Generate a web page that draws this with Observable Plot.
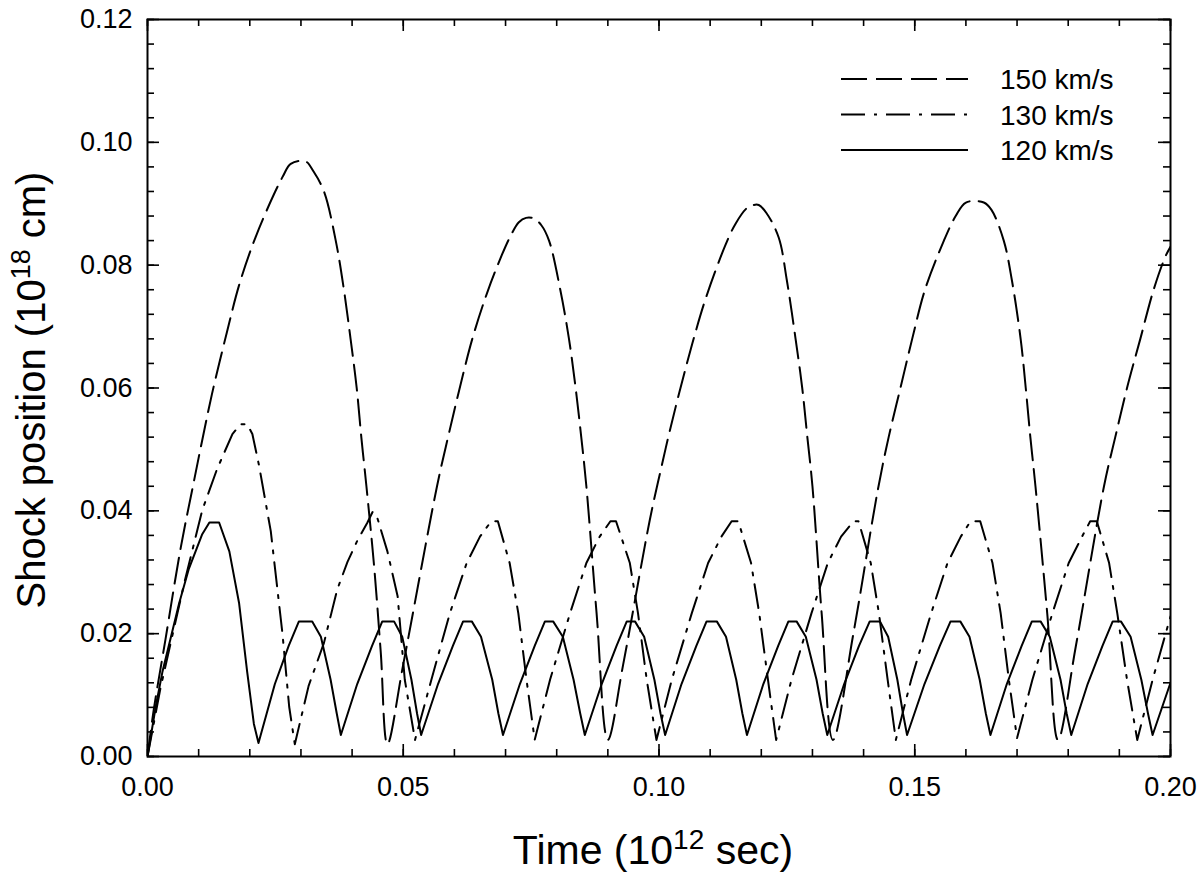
<!DOCTYPE html>
<html>
<head>
<meta charset="utf-8">
<script src="https://cdn.jsdelivr.net/npm/d3@7"></script>
<script src="https://cdn.jsdelivr.net/npm/@observablehq/plot@0.6"></script>
<style>
  html, body { margin: 0; padding: 0; background: #fff; }
  #chart svg { display: block; }
</style>
</head>
<body>
<div id="chart"></div>
<script>
// ---- Data (time in 10^12 s, position in 10^18 cm) ----
const t150 = [0, 0.0012, 0.0035, 0.0065, 0.0090, 0.0107, 0.0126, 0.0155, 0.0180, 0.0211, 0.0247, 0.0265, 0.0280, 0.0309, 0.0325, 0.0345, 0.0368, 0.0384, 0.0397, 0.0409, 0.0418, 0.0428, 0.0443, 0.0456, 0.0469,
  0.0500, 0.0566, 0.0589, 0.0609, 0.0635, 0.0664, 0.0693, 0.0710, 0.0726, 0.0740, 0.0755, 0.0770, 0.0785, 0.0807, 0.0824, 0.0837, 0.0848, 0.0858, 0.0878, 0.0900,
  0.0930, 0.0982, 0.1003, 0.1021, 0.1042, 0.1065, 0.1091, 0.1130, 0.1150, 0.1172, 0.1185, 0.1195, 0.1210, 0.1234, 0.1250, 0.1267, 0.1280, 0.1290, 0.1300, 0.1318, 0.1340,
  0.1380, 0.1428, 0.1449, 0.1472, 0.1495, 0.1520, 0.1557, 0.1580, 0.1600, 0.1635, 0.1650, 0.1674, 0.1690, 0.1707, 0.1717, 0.1726, 0.1736, 0.1759, 0.1780,
  0.1815, 0.1870, 0.1892, 0.1915, 0.1941, 0.1967, 0.1990, 0.2000];
const r150 = [0, 0.0075, 0.0190, 0.0340, 0.0445, 0.0515, 0.0590, 0.0690, 0.0770, 0.0845, 0.0915, 0.0945, 0.0965, 0.0969, 0.0952, 0.0920, 0.0840, 0.0760, 0.0680, 0.0600, 0.0520, 0.0440, 0.0310, 0.0170, 0.0020,
  0.0150, 0.0440, 0.0525, 0.0595, 0.0680, 0.0755, 0.0817, 0.0848, 0.0870, 0.0877, 0.0876, 0.0865, 0.0840, 0.0760, 0.0680, 0.0600, 0.0520, 0.0440, 0.0233, 0.0027,
  0.0150, 0.0385, 0.0465, 0.0530, 0.0600, 0.0672, 0.0745, 0.0833, 0.0868, 0.0893, 0.0898, 0.0898, 0.0885, 0.0845, 0.0775, 0.0680, 0.0600, 0.0520, 0.0440, 0.0233, 0.0027,
  0.0200, 0.0435, 0.0520, 0.0600, 0.0680, 0.0760, 0.0840, 0.0880, 0.0902, 0.0902, 0.0890, 0.0840, 0.0775, 0.0680, 0.0600, 0.0520, 0.0440, 0.0233, 0.0027,
  0.0180, 0.0440, 0.0520, 0.0600, 0.0680, 0.0760, 0.0814, 0.0830];

const t130 = [0, 0.0025, 0.0072, 0.0107, 0.0136, 0.0166, 0.0182, 0.0195, 0.0205, 0.0218, 0.0241, 0.0264, 0.0277, 0.0288,
  0.0315, 0.0345, 0.0371, 0.0391, 0.0410, 0.0430, 0.0440, 0.0447, 0.0469, 0.0489, 0.0503, 0.0523,
  0.0555, 0.0591, 0.0624, 0.0650, 0.0672, 0.0685, 0.0708, 0.0725, 0.0741, 0.0757,
  0.0787, 0.0826, 0.0858, 0.0884, 0.0905, 0.0916, 0.0943, 0.0959, 0.0976, 0.0995,
  0.1025, 0.1064, 0.1096, 0.1122, 0.1142, 0.1155, 0.1180, 0.1196, 0.1213, 0.1229,
  0.1259, 0.1298, 0.1330, 0.1356, 0.1380, 0.1390, 0.1414, 0.1430, 0.1447, 0.1463,
  0.1493, 0.1532, 0.1564, 0.1590, 0.1609, 0.1628, 0.1652, 0.1668, 0.1684, 0.1700,
  0.1730, 0.1769, 0.1801, 0.1827, 0.1843, 0.1856, 0.1880, 0.1896, 0.1915, 0.1935,
  0.1965, 0.2000];
const r130 = [0, 0.0110, 0.0283, 0.0401, 0.0468, 0.0525, 0.0541, 0.0541, 0.0525, 0.0474, 0.0367, 0.0199, 0.0081, 0.0020,
  0.0115, 0.0185, 0.0272, 0.0317, 0.0351, 0.0381, 0.0398, 0.0395, 0.0334, 0.0261, 0.0125, 0.0027,
  0.0125, 0.0233, 0.0315, 0.0358, 0.0383, 0.0383, 0.0315, 0.0233, 0.0125, 0.0027,
  0.0125, 0.0233, 0.0315, 0.0358, 0.0383, 0.0383, 0.0315, 0.0233, 0.0125, 0.0027,
  0.0125, 0.0233, 0.0315, 0.0358, 0.0383, 0.0383, 0.0315, 0.0233, 0.0125, 0.0027,
  0.0125, 0.0233, 0.0315, 0.0358, 0.0383, 0.0383, 0.0315, 0.0233, 0.0125, 0.0027,
  0.0125, 0.0233, 0.0315, 0.0358, 0.0383, 0.0383, 0.0315, 0.0233, 0.0125, 0.0030,
  0.0125, 0.0233, 0.0315, 0.0358, 0.0383, 0.0383, 0.0315, 0.0233, 0.0125, 0.0027,
  0.0125, 0.0228];

const t120 = [0, 0.0016, 0.0029, 0.0062, 0.0081, 0.0107, 0.0121, 0.0140, 0.0160, 0.0179, 0.0195, 0.0208, 0.0217,
  0.0249, 0.0276, 0.0296, 0.0322, 0.0339, 0.0358, 0.0370, 0.0378,
  0.0410, 0.0439, 0.0459, 0.0482, 0.0498, 0.0516, 0.0527, 0.0535,
  0.0568, 0.0597, 0.0617, 0.0634, 0.0652, 0.0674, 0.0686, 0.0695,
  0.0728, 0.0757, 0.0777, 0.0793, 0.0812, 0.0833, 0.0846, 0.0855,
  0.0888, 0.0917, 0.0937, 0.0953, 0.0971, 0.0991, 0.1003, 0.1012,
  0.1044, 0.1073, 0.1093, 0.1113, 0.1131, 0.1151, 0.1163, 0.1172,
  0.1204, 0.1233, 0.1253, 0.1269, 0.1287, 0.1308, 0.1320, 0.1329,
  0.1362, 0.1391, 0.1412, 0.1432, 0.1448, 0.1466, 0.1477, 0.1485,
  0.1519, 0.1549, 0.1570, 0.1589, 0.1607, 0.1627, 0.1639, 0.1648,
  0.1680, 0.1709, 0.1729, 0.1746, 0.1764, 0.1785, 0.1797, 0.1806,
  0.1838, 0.1867, 0.1887, 0.1903, 0.1922, 0.1943, 0.1956, 0.1965,
  0.2000];
const r120 = [0, 0.0081, 0.0137, 0.0250, 0.0306, 0.0362, 0.0381, 0.0381, 0.0334, 0.0250, 0.0137, 0.0053, 0.0022,
  0.0118, 0.0180, 0.0220, 0.0220, 0.0195, 0.0125, 0.0070, 0.0035,
  0.0118, 0.0180, 0.0220, 0.0220, 0.0195, 0.0125, 0.0070, 0.0035,
  0.0118, 0.0180, 0.0220, 0.0220, 0.0195, 0.0125, 0.0070, 0.0035,
  0.0118, 0.0180, 0.0220, 0.0220, 0.0195, 0.0125, 0.0070, 0.0035,
  0.0118, 0.0180, 0.0220, 0.0220, 0.0195, 0.0125, 0.0070, 0.0035,
  0.0118, 0.0180, 0.0220, 0.0220, 0.0195, 0.0125, 0.0070, 0.0035,
  0.0118, 0.0180, 0.0220, 0.0220, 0.0195, 0.0125, 0.0070, 0.0035,
  0.0118, 0.0180, 0.0220, 0.0220, 0.0195, 0.0125, 0.0070, 0.0035,
  0.0118, 0.0180, 0.0220, 0.0220, 0.0195, 0.0125, 0.0070, 0.0035,
  0.0118, 0.0180, 0.0220, 0.0220, 0.0195, 0.0125, 0.0070, 0.0035,
  0.0118, 0.0180, 0.0220, 0.0220, 0.0195, 0.0125, 0.0070, 0.0035,
  0.0120];

const seriesNames = ["150 km/s", "130 km/s", "120 km/s"];
const xTickLabels = [0, 0.05, 0.10, 0.15, 0.20];
const yTickLabels = [0, 0.02, 0.04, 0.06, 0.08, 0.10, 0.12];
const xMinorTicks = d3.range(0, 21).map(i => i / 100);
const yMinorTicks = d3.range(0, 31).map(i => i * 0.004);

// ---- layout ----
const W = 1200, H = 887;
const mL = 147, mR = 30, mT = 19, mB = 131;
const fw = W - mL - mR, fh = H - mT - mB;
const font = "'Liberation Sans', Arial, Helvetica, sans-serif";
const dashA = "26,9";
const dashB = "24,9,3,9";

const toRows = (ts, rs) => ts.map((t, i) => ({t, r: rs[i]}));
const rows150 = toRows(t150, r150);
const rows130 = toRows(t130, r130);
const rows120 = toRows(t120, r120);

const lineOpts = {x: "t", y: "r", stroke: "black", strokeWidth: 2, clip: true};

const chart = Plot.plot({
  width: W, height: H,
  marginLeft: mL, marginRight: mR, marginTop: mT, marginBottom: mB,
  style: {fontFamily: font, background: "white", color: "black"},
  x: {domain: [0, 0.2]},
  y: {domain: [0, 0.12]},
  marks: [
    Plot.line(rows150, {...lineOpts, curve: "catmull-rom", strokeDasharray: dashA}),
    Plot.line(rows130, {...lineOpts, strokeDasharray: dashB}),
    Plot.line(rows120, {...lineOpts}),
    // inward ticks: bottom & top
    Plot.tickX(xMinorTicks, {x: d => d, insetTop: fh - 7, strokeWidth: 1.6}),
    Plot.tickX(xTickLabels, {x: d => d, insetTop: fh - 12, strokeWidth: 1.6}),
    Plot.tickX(xMinorTicks, {x: d => d, insetBottom: fh - 7, strokeWidth: 1.6}),
    Plot.tickX(xTickLabels, {x: d => d, insetBottom: fh - 12, strokeWidth: 1.6}),
    // inward ticks: left & right
    Plot.tickY(yMinorTicks, {y: d => d, insetRight: fw - 7, strokeWidth: 1.6}),
    Plot.tickY(yTickLabels, {y: d => d, insetRight: fw - 12, strokeWidth: 1.6}),
    Plot.tickY(yMinorTicks, {y: d => d, insetLeft: fw - 7, strokeWidth: 1.6}),
    Plot.tickY(yTickLabels, {y: d => d, insetLeft: fw - 12, strokeWidth: 1.6}),
    Plot.axisX({ticks: xTickLabels, tickSize: 0, tickPadding: 20, tickFormat: d3.format(".2f"), fontSize: 27, label: null}),
    Plot.axisY({ticks: yTickLabels, tickSize: 0, tickPadding: 15, tickFormat: d3.format(".2f"), fontSize: 27, label: null}),
    Plot.frame({stroke: "black", strokeWidth: 2})
  ]
});

document.getElementById("chart").appendChild(chart);

// ---- axis titles with superscripts ----
const svg = d3.select(chart);
const xt = svg.append("text")
  .attr("x", 653).attr("y", 864)
  .attr("text-anchor", "middle")
  .attr("font-family", font).attr("font-size", 41).attr("fill", "black");
xt.append("tspan").text("Time (10");
xt.append("tspan").attr("font-size", 28).attr("dy", -15).text("12");
xt.append("tspan").attr("dy", 15).text(" sec)");

const yt = svg.append("text")
  .attr("transform", "translate(45,390) rotate(-90)")
  .attr("text-anchor", "middle")
  .attr("font-family", font).attr("font-size", 40).attr("fill", "black");
yt.append("tspan").text("Shock position (10");
yt.append("tspan").attr("font-size", 27).attr("dy", -15).text("18");
yt.append("tspan").attr("dy", 15).text(" cm)");

// ---- legend ----
const legendDash = [dashA, dashB, null];
const lg = svg.append("g");
seriesNames.forEach((name, i) => {
  const y = 79 + i * 35.5;
  const ln = lg.append("line")
    .attr("x1", 841).attr("x2", 968).attr("y1", y).attr("y2", y)
    .attr("stroke", "black").attr("stroke-width", 2);
  if (legendDash[i]) ln.attr("stroke-dasharray", legendDash[i]);
  lg.append("text")
    .attr("x", 1000).attr("y", y).attr("dy", "0.36em")
    .attr("text-anchor", "start")
    .attr("font-family", font).attr("font-size", 28).attr("fill", "black")
    .text(name);
});
</script>
</body>
</html>
